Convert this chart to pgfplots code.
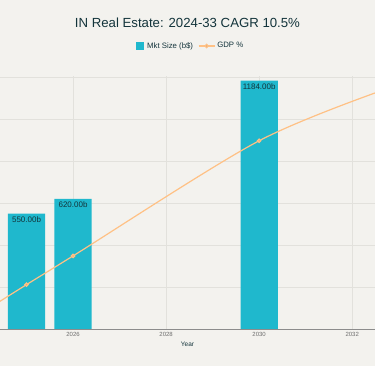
\documentclass[border=0pt]{standalone}
\usepackage{fontspec}
\setmainfont{Liberation Sans}
\usepackage{pgfplots}
\pgfplotsset{compat=1.18}
\definecolor{bg}{HTML}{F3F2EE}
\definecolor{barc}{HTML}{1FB8CD}
\definecolor{linec}{HTML}{FFC185}
\definecolor{gridc}{HTML}{E2E1DC}
\definecolor{txt}{HTML}{13343B}
\definecolor{tickc}{HTML}{6E6E6E}
\begin{document}
\begin{tikzpicture}[x=1pt,y=1pt]
\fill[bg] (0,0) rectangle (375,366);
\useasboundingbox (0,0) rectangle (375,366);
\node[font=\fontsize{13.2}{15}\selectfont, text=txt] at (187.5,343) {IN Real Estate: 2024-33 CAGR 10.5\%};
\begin{axis}[at={(0pt,37pt)}, anchor=south west, scale only axis, width=375pt, height=253pt,
  /pgf/number format/assume math mode=true,
  xmin=2024.43, xmax=2032.49, ymin=0, ymax=1206,
  ybar, bar width=0.8, bar shift=0pt,
  axis x line*=bottom, axis y line*=left,
  x axis line style={draw=black!45, line width=0.8pt, -},
  y axis line style={draw=none},
  xtick={2026,2028,2030,2032}, ytick={200,400,...,1200},
  yticklabel=\empty,
  grid=major, major grid style={gridc, line width=0.6pt},
  xticklabel style={/pgf/number format/1000 sep={}, font=\fontsize{6}{7}\selectfont, text=tickc},
  major tick length=0pt,
  xlabel={Year}, xlabel style={font=\fontsize{6.5}{8}\selectfont, text=txt, yshift=2pt},
  nodes near coords={\pgfmathprintnumber[fixed,fixed zerofill,precision=2,1000 sep={},assume math mode=true]{\pgfplotspointmeta}b},
  nodes near coords style={anchor=north, inner sep=1pt, yshift=-1.5pt, font=\fontsize{8}{9}\selectfont, text=txt},
]
\addplot[fill=barc, draw=none] coordinates {(2025,550) (2026,620) (2030,1184)};
\end{axis}
\begin{axis}[at={(0pt,37pt)}, anchor=south west, scale only axis, width=375pt, height=253pt,
  xmin=2024.43, xmax=2032.49, ymin=0, ymax=10.04,
  hide axis,
  legend style={at={(0.5,1)}, anchor=center, xshift=3pt, yshift=30pt, draw=none, fill=none,
    legend columns=2, font=\fontsize{7.8}{9}\selectfont, text=txt,
    /tikz/every even column/.append style={column sep=3pt},
    /tikz/every odd column/.append style={}},
  legend cell align=left,
  legend image code/.code={\draw[mark repeat=2,mark phase=2,#1] plot coordinates {(0pt,0pt) (8pt,0pt) (16pt,0pt)};},
]
\addlegendimage{legend image code/.code={\fill[barc] (0pt,-3.5pt) rectangle (7pt,3.5pt);}}
\addlegendentry{\hspace{2pt}Mkt Size (b\$)}
\addplot[linec, line width=1.2pt, smooth, mark=*, mark size=1.7pt, mark options={fill=linec!80!black!90, draw=none}]
  coordinates {(2024,0.60) (2025,1.76) (2026,2.90) (2030,7.47) (2033,9.70)};
\addlegendentry{GDP \%}
\end{axis}
\end{tikzpicture}
\end{document}
